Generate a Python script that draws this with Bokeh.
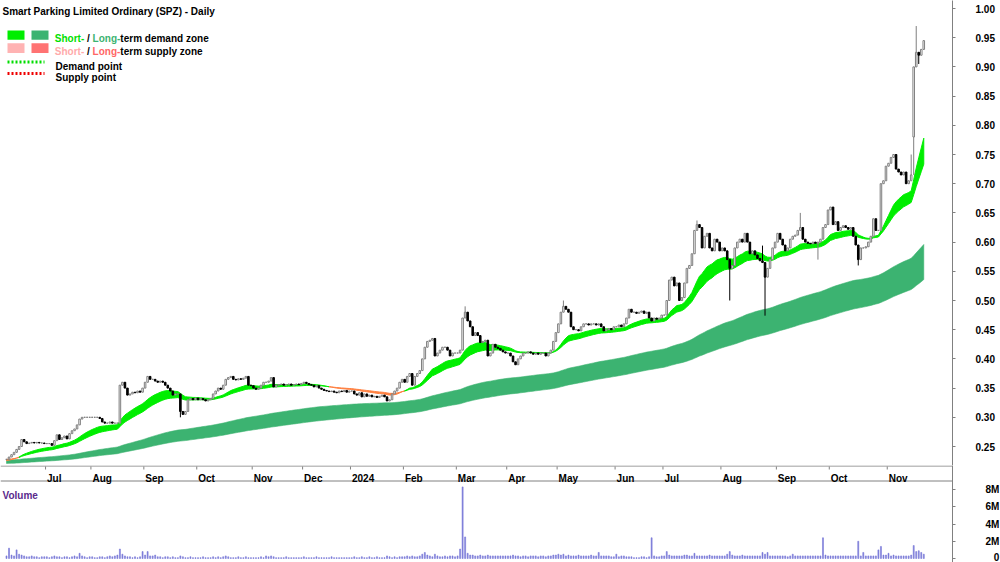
import numpy as np
from bokeh.plotting import figure
from bokeh.layouts import column
from bokeh.models import Range1d, FixedTicker, LinearAxis, Label, Span, PrintfTickFormatter, Grid
from bokeh.embed import file_html
from bokeh.resources import INLINE

FONT = "Liberation Sans"

# ---------------- data ----------------
month_labels = ["Jun", "Jul", "Aug", "Sep", "Oct", "Nov", "Dec", "2024", "Feb", "Mar",
                "Apr", "May", "Jun", "Jul", "Aug", "Sep", "Oct", "Nov"]

jun23 = [0.228, 0.232, 0.236, 0.240, 0.245, 0.250, 0.262, 0.258, 0.255, 0.256, 0.257, 0.256, 0.257, 0.256, 0.256, 0.255]
jul23 = [0.255, 0.255, 0.252, 0.260, 0.270, 0.262, 0.265, 0.268, 0.263, 0.272, 0.277, 0.280, 0.287, 0.297, 0.300, 0.300, 0.300, 0.300]
aug23 = [0.300, 0.300, 0.300, 0.298, 0.292, 0.290, 0.290, 0.292, 0.290, 0.290, 0.290, 0.355, 0.360, 0.350, 0.338, 0.340, 0.343, 0.342, 0.345, 0.343, 0.350]
sep23 = [0.360, 0.370, 0.365, 0.365, 0.362, 0.360, 0.362, 0.360, 0.355, 0.350, 0.345, 0.338, 0.340, 0.340, 0.310, 0.305, 0.310, 0.330, 0.332, 0.330, 0.333]
oct23 = [0.330, 0.332, 0.330, 0.328, 0.330, 0.332, 0.340, 0.345, 0.350, 0.348, 0.355, 0.365, 0.368, 0.370, 0.365, 0.364, 0.366, 0.365, 0.367, 0.370, 0.355, 0.354]
nov23 = [0.350, 0.348, 0.350, 0.355, 0.360, 0.360, 0.362, 0.368, 0.352, 0.355, 0.356, 0.357, 0.355, 0.356, 0.357, 0.355, 0.356, 0.357, 0.356, 0.358]
dec23 = [0.360, 0.358, 0.356, 0.355, 0.352, 0.354, 0.350, 0.348, 0.346, 0.345, 0.344, 0.345, 0.343, 0.342, 0.345, 0.344, 0.346, 0.343, 0.345]
jan24 = [0.345, 0.340, 0.338, 0.342, 0.335, 0.340, 0.336, 0.338, 0.335, 0.336, 0.334, 0.336, 0.338, 0.335, 0.328, 0.330, 0.340, 0.345, 0.350, 0.360, 0.365]
feb24 = [0.360, 0.370, 0.375, 0.355, 0.370, 0.375, 0.380, 0.400, 0.420, 0.430, 0.432, 0.435, 0.405, 0.410, 0.415, 0.420, 0.420, 0.415, 0.405, 0.410, 0.410]
mar24 = [0.410, 0.415, 0.470, 0.480, 0.465, 0.455, 0.440, 0.445, 0.440, 0.428, 0.430, 0.432, 0.405, 0.410, 0.425, 0.420, 0.418, 0.415, 0.412, 0.410]
apr24 = [0.410, 0.405, 0.395, 0.390, 0.400, 0.405, 0.410, 0.410, 0.412, 0.410, 0.408, 0.410, 0.408, 0.410, 0.410, 0.405, 0.410, 0.415, 0.430, 0.445]
may24 = [0.460, 0.480, 0.490, 0.485, 0.480, 0.455, 0.450, 0.450, 0.448, 0.455, 0.460, 0.460, 0.458, 0.460, 0.460, 0.458, 0.460, 0.455, 0.448, 0.450, 0.452, 0.450, 0.455]
jun24 = [0.455, 0.458, 0.455, 0.460, 0.470, 0.485, 0.480, 0.480, 0.478, 0.480, 0.482, 0.478, 0.480, 0.470, 0.465, 0.470, 0.468, 0.470, 0.475]
jul24 = [0.475, 0.500, 0.535, 0.540, 0.525, 0.530, 0.500, 0.505, 0.530, 0.555, 0.560, 0.580, 0.620, 0.630, 0.625, 0.590, 0.610, 0.615, 0.590, 0.585, 0.605, 0.600, 0.585]
aug24 = [0.590, 0.585, 0.570, 0.555, 0.560, 0.590, 0.600, 0.605, 0.600, 0.615, 0.600, 0.580, 0.585, 0.578, 0.572, 0.568, 0.565, 0.540, 0.555, 0.570, 0.590, 0.600]
sep24 = [0.615, 0.605, 0.595, 0.585, 0.590, 0.605, 0.610, 0.612, 0.620, 0.625, 0.605, 0.600, 0.598, 0.597, 0.600, 0.598, 0.600, 0.605, 0.625, 0.630, 0.655]
oct24 = [0.660, 0.630, 0.635, 0.620, 0.625, 0.628, 0.625, 0.622, 0.625, 0.610, 0.595, 0.570, 0.590, 0.590, 0.592, 0.600, 0.610, 0.640, 0.620, 0.620, 0.700, 0.705, 0.730]
nov24 = [0.735, 0.745, 0.750, 0.725, 0.720, 0.715, 0.720, 0.700, 0.705, 0.715, 0.900, 0.925, 0.920, 0.930, 0.945]

closes_by_month = [jun23, jul23, aug23, sep23, oct23, nov23, dec23, jan24, feb24, mar24,
                   apr24, may24, jun24, jul24, aug24, sep24, oct24, nov24]
month_keys = ["jun23", "jul23", "aug23", "sep23", "oct23", "nov23", "dec23", "jan24", "feb24", "mar24",
              "apr24", "may24", "jun24", "jul24", "aug24", "sep24", "oct24", "nov24"]

# volume, millions of shares
v_jun23 = [0.3, 1.2, 0.4, 0.3, 1.0, 0.5, 0.4, 0.3, 0.2, 0.2, 0.3, 0.2, 0.2, 0.1, 0.2, 0.2]
v_jul23 = [0.2, 0.1, 0.2, 0.3, 0.2, 0.2, 0.1, 0.2, 0.2, 0.1, 0.2, 0.3, 0.2, 0.6, 0.3, 0.2, 0.1, 0.2]
v_aug23 = [0.2, 0.1, 0.1, 0.2, 0.2, 0.1, 0.2, 0.3, 0.2, 0.3, 0.4, 1.1, 0.5, 0.3, 0.2, 0.2, 0.1, 0.2, 0.1, 0.2, 0.8]
v_sep23 = [0.4, 0.8, 0.3, 0.3, 0.4, 0.2, 0.2, 0.1, 0.2, 0.2, 0.1, 0.2, 0.1, 0.1, 0.3, 0.2, 0.1, 0.1, 0.2, 0.1, 0.1]
v_oct23 = [0.1, 0.1, 0.2, 0.1, 0.1, 0.1, 0.2, 0.1, 0.2, 0.1, 0.2, 0.3, 0.2, 0.1, 0.1, 0.1, 0.2, 0.1, 0.1, 0.2, 0.1, 0.1]
v_nov23 = [0.1, 0.1, 0.1, 0.2, 0.1, 0.3, 0.2, 0.3, 0.2, 0.1, 0.1, 0.1, 0.1, 0.2, 0.1, 0.1, 0.1, 0.1, 0.1, 0.1]
v_dec23 = [0.2, 0.1, 0.1, 0.1, 0.1, 0.2, 0.1, 0.1, 0.1, 0.1, 0.1, 0.2, 0.1, 0.1, 0.1, 0.1, 0.1, 0.1, 0.1]
v_jan24 = [0.1, 0.2, 0.1, 0.1, 0.2, 0.1, 0.1, 0.2, 0.1, 0.1, 0.2, 0.1, 0.1, 0.1, 0.3, 0.2, 0.1, 0.2, 0.1, 0.2, 0.2]
v_feb24 = [0.2, 0.3, 0.2, 0.3, 0.2, 0.2, 0.3, 0.5, 0.7, 0.4, 0.3, 0.2, 0.5, 0.3, 0.2, 0.2, 0.3, 0.2, 0.3, 0.3, 0.2]
v_mar24 = [0.3, 1.1, 8.3, 2.5, 0.6, 0.4, 0.4, 0.3, 0.3, 0.4, 0.3, 0.3, 0.4, 0.3, 0.3, 0.3, 0.3, 0.3, 0.3, 0.3]
v_apr24 = [0.3, 0.3, 0.4, 0.3, 0.3, 0.2, 0.3, 0.3, 0.2, 0.3, 0.3, 0.3, 0.2, 0.3, 0.3, 0.2, 0.3, 0.3, 0.4, 0.4]
v_may24 = [0.5, 0.4, 0.5, 0.3, 0.4, 0.3, 0.3, 0.3, 0.4, 0.3, 0.3, 0.3, 0.3, 0.4, 0.3, 0.3, 0.7, 0.3, 0.3, 0.3, 0.3, 0.2, 0.2]
v_jun24 = [0.5, 0.2, 0.3, 0.3, 0.2, 0.2, 0.2, 0.1, 0.1, 0.1, 0.2, 0.2, 0.1, 0.2, 2.4, 0.3, 0.2, 0.2, 0.3]
v_jul24 = [0.3, 0.8, 0.4, 0.3, 0.3, 0.3, 0.3, 0.3, 0.4, 0.4, 0.3, 0.3, 0.6, 0.3, 0.3, 0.3, 0.3, 0.3, 0.4, 0.3, 0.3, 0.3, 0.3]
v_aug24 = [0.3, 0.3, 0.5, 0.8, 0.4, 0.3, 0.3, 0.3, 0.4, 0.3, 0.3, 0.3, 0.3, 0.3, 0.3, 0.3, 0.7, 0.5, 0.7, 0.3, 0.3, 0.3]
v_sep24 = [0.3, 0.3, 0.3, 0.3, 0.2, 0.3, 0.5, 0.3, 0.3, 0.3, 0.3, 0.3, 0.3, 0.3, 0.3, 0.3, 0.3, 0.3, 2.4, 0.4, 0.3]
v_oct24 = [0.3, 0.3, 0.3, 0.3, 0.3, 0.3, 0.3, 0.3, 0.3, 0.3, 0.3, 2.0, 0.3, 0.7, 0.3, 0.3, 0.3, 0.3, 0.3, 1.0, 1.4, 0.4, 0.4]
v_nov24 = [0.6, 0.3, 0.4, 0.3, 0.3, 0.3, 0.3, 0.3, 0.3, 0.4, 1.5, 0.8, 0.9, 0.7, 0.5]

volumes_by_month = [v_jun23, v_jul23, v_aug23, v_sep23, v_oct23, v_nov23, v_dec23, v_jan24, v_feb24, v_mar24,
                    v_apr24, v_may24, v_jun24, v_jul24, v_aug24, v_sep24, v_oct24, v_nov24]

# notable opens / wicks: (month, day-of-month index, field, price)
candle_overrides = [
    ("sep23", 14, "low", 0.300),
    ("mar24", 3, "high", 0.490),
    ("may24", 2, "high", 0.500),
    ("jul24", 13, "high", 0.637),
    ("aug24", 3, "low", 0.500),
    ("aug24", 16, "high", 0.594),
    ("aug24", 17, "low", 0.474),
    ("sep24", 9, "high", 0.650),
    ("sep24", 16, "low", 0.570),
    ("oct24", 11, "low", 0.560),
    ("nov24", 9, "high", 0.750),
    ("nov24", 10, "open", 0.780),
    ("nov24", 11, "high", 0.970),
    ("nov24", 12, "low", 0.905),
]

# ribbon settings (EMA periods and starting levels)
SHORT_FAST, SHORT_SLOW = 21, 34
LONG_FAST, LONG_SLOW = 144, 233
SEED = {"sf": 0.226, "ss": 0.228, "lf": 0.227, "ls": 0.221}

# ---------------- derived series ----------------
close = np.array([c for m in closes_by_month for c in m], dtype=float)
volume = np.array([x for m in volumes_by_month for x in m], dtype=float)
assert len(close) == len(volume), (len(close), len(volume))
N = len(close)
idx = np.arange(N, dtype=float)
month_start = np.cumsum([0] + [len(m) for m in closes_by_month])[:-1]
start_of = dict(zip(month_keys, month_start))

opens = np.concatenate([[close[0]], close[:-1]])
highs = np.maximum(opens, close)
lows = np.minimum(opens, close)
for mk, d, field, val in candle_overrides:
    i = start_of[mk] + d
    if field == "open":
        opens[i] = val
        highs[i] = max(highs[i], val, close[i])
        lows[i] = min(lows[i], val, close[i])
    elif field == "high":
        highs[i] = val
    else:
        lows[i] = val


def ema(values, n, seed):
    a = 2.0 / (n + 1)
    out = np.empty(len(values))
    e = seed
    for k, val in enumerate(values):
        e = e + a * (val - e)
        out[k] = e
    return out


sf = ema(close, SHORT_FAST, SEED["sf"])
ss = ema(close, SHORT_SLOW, SEED["ss"])
lf = ema(close, LONG_FAST, SEED["lf"])
ls = ema(close, LONG_SLOW, SEED["ls"])

# ---------------- layout helpers (pixel -> data) ----------------
PX_PER_BAR = 2.52
FRAME_W, FRAME_H = 952, 465
x_start = month_start[-1] - 888.0 / PX_PER_BAR
x_end = x_start + FRAME_W / PX_PER_BAR


def py2price(py):
    return 1.0 - (py - 8.0) / 584.0


def px2x(px):
    return x_start + px / PX_PER_BAR


y_lo, y_hi = py2price(FRAME_H), py2price(0)

C_SHORT = "#00EE00"
C_LONG = "#3CB371"
C_SHORT_SUP = "#FFB3B3"
C_LONG_SUP = "#FF7373"
C_BAND_SUP = "#FF8040"
AXIS_C = "#808080"

p = figure(frame_width=FRAME_W, frame_height=FRAME_H,
           x_range=Range1d(x_start, x_end), y_range=Range1d(y_lo, y_hi),
           output_backend="svg", toolbar_location=None,
           x_axis_location=None, y_axis_location=None,
           min_border_left=0, min_border_right=48, min_border_top=0, min_border_bottom=0)
p.outline_line_color = None
p.background_fill_color = "white"
p.border_fill_color = "white"


def band_polys(upper, lower, state):
    xs_l, ys_l, st_l = [], [], []
    i = 0
    while i < N:
        j = i
        while j + 1 < N and state[j + 1] == state[i]:
            j += 1
        end = min(j + 1, N - 1)
        xx = list(idx[i:end + 1])
        xs_l.append(xx + xx[::-1])
        ys_l.append(list(upper[i:end + 1]) + list(lower[i:end + 1])[::-1])
        st_l.append(bool(state[i]))
        i = j + 1
    return xs_l, ys_l, st_l


# long-term ribbon
xs_l, ys_l, st_l = band_polys(lf, ls, lf >= ls)
cols = [C_LONG if s else C_LONG_SUP for s in st_l]
p.patches(xs_l, ys_l, fill_color=cols, line_color=cols, line_width=0.6)

# short-term ribbon
xs_s, ys_s, st_s = band_polys(sf, ss, sf >= ss)
cols = [C_SHORT if s else C_BAND_SUP for s in st_s]
p.patches(xs_s, ys_s, fill_color=cols, line_color=cols, line_width=1.0)

# candles
up = close >= opens
dn = ~up
p.segment(idx[up], lows[up], idx[up], highs[up], line_color="#7F7F7F", line_width=1)
p.segment(idx[dn], lows[dn], idx[dn], highs[dn], line_color="black", line_width=1)
p.vbar(x=idx[up], bottom=opens[up], top=close[up], width=0.62,
       fill_color="white", line_color="#7F7F7F", line_width=1)
p.vbar(x=idx[dn], bottom=close[dn], top=opens[dn], width=0.62,
       fill_color="black", line_color="black", line_width=1)

# price axis (right)
yax = LinearAxis(ticker=FixedTicker(ticks=[round(0.25 + 0.05 * k, 2) for k in range(16)]),
                 formatter=PrintfTickFormatter(format="%.2f"))
yax.axis_line_color = AXIS_C
yax.major_tick_line_color = AXIS_C
yax.major_tick_in = 0
yax.major_tick_out = 3
yax.minor_tick_line_color = None
yax.major_label_standoff = 20
yax.major_label_text_font = FONT
yax.major_label_text_font_size = "10px"
yax.major_label_text_font_style = "bold"
yax.major_label_text_color = "black"
p.add_layout(yax, "right")

W_BOLD = {" ": 278, "\u00a0": 278, "-": 333, "/": 278, "S": 667, "h": 611, "o": 611, "r": 389, "t": 333,
          "L": 611, "n": 611, "g": 611, "e": 556, "m": 889, "d": 611, "a": 556, "z": 500, "s": 556,
          "u": 611, "p": 611, "l": 278, "y": 556}


def text_w(s, size):
    return sum(W_BOLD.get(ch, 556) for ch in s) * size / 1000.0


# title & legend
def add_text(fig, x, y, text, color="black", size=10):
    fig.add_layout(Label(x=x, y=y, text=text, text_color=color,
                         text_font=FONT, text_font_size=f"{size}px", text_font_style="bold",
                         text_baseline="alphabetic", text_align="left"))


add_text(p, px2x(2), py2price(10.8), "Smart Parking Limited Ordinary (SPZ) - Daily")


def multi_text(px, py, pieces):
    x = px
    for txt, col in pieces:
        add_text(p, px2x(x), py2price(py), txt, col)
        x += text_w(txt, 10)


SEP = "\u00a0/\u00a0"
for (top, bot, c1, c2, base, word, cs1, cs2) in [
    (30.0, 39.3, C_SHORT, C_LONG, 38.4, "term demand zone", "#00E000", C_LONG),
    (42.8, 52.5, C_SHORT_SUP, C_LONG_SUP, 51.2, "term supply zone", "#FFAAAA", "#FF6666"),
]:
    p.quad(left=px2x(7), right=px2x(24), top=py2price(top), bottom=py2price(bot),
           fill_color=c1, line_color=None)
    p.quad(left=px2x(31), right=px2x(48), top=py2price(top), bottom=py2price(bot),
           fill_color=c2, line_color=None)
    multi_text(54.3, base, [("Short-", cs1), (SEP, "black"), ("Long-", cs2), (word, "black")])

p.line([px2x(7), px2x(44)], [py2price(61.5)] * 2, line_color="#00DD00", line_width=3, line_dash="2 2")
p.line([px2x(7), px2x(44)], [py2price(73.0)] * 2, line_color="#EE0000", line_width=3, line_dash="2 2")
add_text(p, px2x(55), py2price(65.5), "Demand point")
add_text(p, px2x(55), py2price(77.3), "Supply point")

# ---------------- date strip + volume panel ----------------
VOL_TOP = 465          # page y where this panel starts
VOL_H = 562 - VOL_TOP
VPX_PER_M = 8.625


def py2vol(py):  # py = page y
    return 8.0 - (py - 489.0) / VPX_PER_M


v = figure(frame_width=FRAME_W, frame_height=VOL_H,
           x_range=p.x_range, y_range=Range1d(py2vol(562), py2vol(VOL_TOP)),
           output_backend="svg", toolbar_location=None,
           x_axis_location=None, y_axis_location=None,
           min_border_left=0, min_border_right=48, min_border_top=0, min_border_bottom=0)
v.outline_line_color = None
v.background_fill_color = "white"
v.border_fill_color = "white"
v.vbar(x=idx, bottom=0, top=volume, width=0.4, fill_color="#7A7AD8", line_color="#7A7AD8", line_width=0.6)

# lines bounding the date strip
v.add_layout(Span(location=py2vol(465.5), dimension="width", line_color=AXIS_C, line_width=1))
v.add_layout(Span(location=py2vol(480.5), dimension="width", line_color=AXIS_C, line_width=1))

# month ticks and labels
tick_x = [float(month_start[k]) - 0.5 for k in range(1, len(month_labels))]
v.segment(x0=tick_x, y0=[py2vol(466)] * len(tick_x), x1=tick_x, y1=[py2vol(469)] * len(tick_x),
          line_color=AXIS_C, line_width=1)
for k in range(1, len(month_labels)):
    add_text(v, float(month_start[k]) - 0.5 + 1.5 / PX_PER_BAR, py2vol(477.5), month_labels[k])

vax = LinearAxis(ticker=FixedTicker(ticks=[0, 2, 4, 6, 8]),
                 major_label_overrides={0: "\u00a0\u00a0\u00a00", 2: "2M", 4: "4M", 6: "6M", 8: "8M"})
vax.axis_line_color = AXIS_C
vax.major_tick_line_color = AXIS_C
vax.major_tick_in = 0
vax.major_tick_out = 3
vax.minor_tick_line_color = None
vax.major_label_standoff = 30
vax.major_label_text_font = FONT
vax.major_label_text_font_size = "10px"
vax.major_label_text_font_style = "bold"
vax.major_label_text_color = "black"
v.add_layout(vax, "right")

add_text(v, px2x(2), py2vol(494.5), "Volume", "#5B2A8C")

for fig in (p, v):
    for g in fig.select(type=Grid):
        g.visible = False

layout = column(p, v, spacing=0)
open("out.html", "w").write(file_html(layout, INLINE))
